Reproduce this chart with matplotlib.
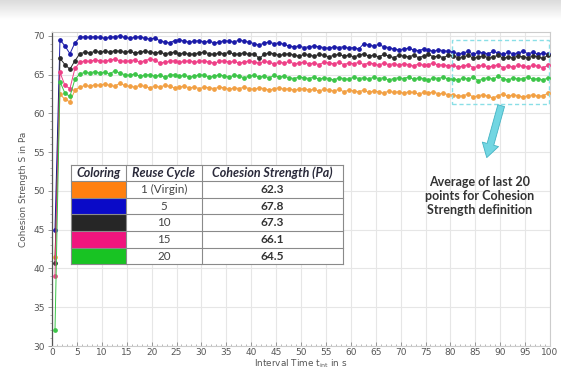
import numpy as np
import matplotlib
matplotlib.use("Agg")
import matplotlib.pyplot as plt
from matplotlib.patches import Rectangle
from matplotlib.ticker import MultipleLocator

# ---------------- data ----------------
time_s = np.arange(100) + 0.6

blue_5 = [45.0, 69.5, 68.7, 67.7, 69.1, 69.8, 69.9, 69.8, 69.9, 69.8,
          69.7, 69.8, 69.9, 70.0, 69.8, 69.7, 69.8, 69.9, 69.7, 69.6,
          69.7, 69.4, 69.2, 69.1, 69.4, 69.5, 69.3, 69.2, 69.3, 69.4,
          69.2, 69.3, 69.1, 69.2, 69.4, 69.3, 69.2, 69.5, 69.3, 69.2,
          69.0, 68.8, 69.1, 69.2, 69.0, 69.1, 68.9, 68.7, 68.6, 68.7,
          68.5, 68.6, 68.7, 68.6, 68.5, 68.4, 68.6, 68.5, 68.6, 68.4,
          68.5, 68.3, 69.0, 68.8, 68.7, 68.9, 68.6, 68.5, 68.3, 68.2,
          68.3, 68.4, 68.2, 68.1, 68.3, 68.2, 68.0, 68.2, 68.1, 68.0,
          67.9, 67.7, 67.8, 68.0, 67.6, 67.9, 67.8, 67.7, 68.0, 67.8,
          67.6, 67.9, 67.7, 67.8, 68.0, 67.7, 67.9, 67.6, 67.8, 67.6]

black_10 = [40.7, 67.1, 66.3, 65.7, 66.8, 67.7, 67.9, 67.8, 68.0, 67.9,
            68.0, 67.9, 68.1, 68.0, 67.9, 68.0, 67.8, 67.9, 68.0, 67.9,
            67.8, 67.9, 67.7, 67.8, 67.9, 67.7, 67.8, 67.6, 67.7, 67.8,
            67.9, 67.7, 67.6, 67.8, 67.7, 67.9, 67.6, 67.7, 67.8, 67.6,
            67.7, 67.1, 67.6, 67.8, 67.7, 67.5, 67.6, 67.7, 67.5, 67.4,
            67.6, 67.5, 67.4, 67.6, 67.5, 67.3, 67.5, 67.6, 67.4, 67.5,
            67.3, 67.5, 67.7, 67.4, 67.5, 67.3, 67.6, 67.4, 67.2, 67.5,
            67.4, 67.3, 67.5, 67.2, 67.4, 67.6, 67.3, 67.4, 67.2, 67.5,
            67.4, 67.2, 67.3, 67.5, 67.1, 67.3, 67.4, 67.2, 67.3, 67.5,
            67.1, 67.3, 67.2, 67.4, 67.3, 67.2, 67.4, 67.3, 67.1, 67.5]

pink_15 = [39.0, 65.3, 63.6, 63.2, 65.8, 66.6, 66.8, 66.7, 66.9, 66.8,
           66.7, 66.9, 67.0, 66.8, 66.7, 66.8, 66.9, 66.6, 66.8, 67.0,
           66.9, 66.5, 66.6, 66.7, 66.8, 66.6, 66.7, 66.8, 66.6, 66.7,
           66.8, 66.6, 66.5, 66.7, 66.8, 66.6, 66.7, 66.5, 66.6, 66.8,
           66.6, 66.5, 66.7, 66.6, 66.4, 66.6, 66.5, 66.7, 66.4, 66.5,
           66.6, 66.4, 66.5, 66.3, 66.6, 66.5, 66.4, 66.6, 66.3, 66.5,
           66.4, 66.6, 66.3, 66.5, 66.4, 66.2, 66.5, 66.3, 66.4, 66.2,
           66.4, 66.3, 66.1, 66.4, 66.2, 66.3, 66.5, 66.2, 66.3, 66.1,
           66.2, 66.0, 66.1, 66.3, 65.9, 66.1, 66.2, 66.0, 66.1, 66.3,
           65.9, 66.1, 66.0, 66.2, 66.1, 66.0, 66.2, 66.1, 65.9, 66.2]

green_20 = [32.0, 64.1, 62.6, 62.2, 64.4, 65.1, 65.3, 65.2, 65.4, 65.2,
            65.3, 65.1, 65.5, 65.2, 65.0, 64.9, 65.1, 64.8, 64.9, 65.0,
            64.8, 64.9, 64.7, 64.9, 65.0, 64.8, 64.9, 64.7, 64.8, 65.0,
            64.9, 64.7, 64.8, 65.0, 64.8, 64.7, 64.9, 64.8, 64.6, 64.8,
            64.9, 64.7, 64.8, 64.6, 64.9, 64.7, 64.8, 64.6, 64.5, 64.7,
            64.6, 64.5, 64.7, 64.4, 64.6, 64.5, 64.3, 64.6, 64.5, 64.4,
            64.7, 64.5, 64.6, 64.4, 64.7, 64.5, 64.6, 64.3, 64.5, 64.6,
            64.5, 64.7, 64.4, 64.6, 64.5, 64.3, 64.6, 64.5, 64.7, 64.4,
            64.5, 64.3, 64.6, 64.4, 64.7, 64.2, 64.5, 64.6, 64.4, 64.8,
            64.5, 64.3, 64.6, 64.4, 64.5, 64.7, 64.4, 64.5, 64.3, 64.6]

orange_1 = [41.5, 62.5, 61.8, 61.5, 63.0, 63.4, 63.6, 63.5, 63.7, 63.6,
            63.8, 63.6, 63.5, 63.9, 63.6, 63.5, 63.4, 63.6, 63.5, 63.3,
            63.5, 63.4, 63.6, 63.5, 63.3, 63.4, 63.5, 63.3, 63.4, 63.2,
            63.4, 63.3, 63.2, 63.4, 63.3, 63.1, 63.3, 63.2, 63.4, 63.2,
            63.1, 63.3, 63.2, 63.0, 63.2, 63.3, 63.1, 63.2, 63.0, 63.1,
            63.2, 63.0, 63.1, 62.9, 63.1, 63.0, 62.9, 63.1, 62.8, 63.0,
            62.9, 62.8, 63.0, 62.7, 62.9, 62.8, 62.6, 62.9, 62.7, 62.8,
            62.6, 62.8, 62.7, 62.5, 62.7, 62.6, 62.8, 62.5, 62.6, 62.4,
            62.4, 62.2, 62.3, 62.5, 62.1, 62.3, 62.4, 62.2, 62.0, 62.3,
            62.5, 62.2, 62.4, 62.3, 62.1, 62.3, 62.4, 62.2, 62.3, 62.6]

reuse_cycles = ["1 (Virgin)", "5", "10", "15", "20"]
strengths = ["62.3", "67.8", "67.3", "66.1", "64.5"]
table_headers = ["Coloring", "Reuse Cycle", "Cohesion Strength (Pa)"]

series = [orange_1, blue_5, black_10, pink_15, green_20]
line_colors = ["#f2a043", "#1a1aa8", "#2a2a2a", "#ee3f86", "#3cc548"]
swatch_colors = ["#ff8010", "#0a0ac8", "#262626", "#f0157e", "#18c323"]

# ---------------- figure ----------------
W, H = 561, 370
fig = plt.figure(figsize=(W / 100, H / 100), dpi=100)
fig.patch.set_facecolor("white")

# faint grey haze at the very top
bg = fig.add_axes([0, 1 - 20 / H, 1, 20 / H], zorder=-5)
grad = np.linspace(0.86, 1.0, 50).reshape(-1, 1)
bg.imshow(np.repeat(grad, 10, axis=1), cmap="gray", vmin=0, vmax=1,
          aspect="auto", extent=[0, 1, 0, 1], origin="upper")
bg.axis("off")

ax_l, ax_r = 52 / W, 550 / W
ax_b = 24 / H
ax_t = (H - 32) / H
ax = fig.add_axes([ax_l, ax_b, ax_r - ax_l, ax_t - ax_b])

for vals, col in zip(series, line_colors):
    ax.plot(time_s, vals, color=col, lw=0.7, marker="o", ms=2.4,
            mec=col, mfc=col, zorder=3)

ax.set_xlim(0, 100)
ax.set_ylim(30, 70.5)
ax.xaxis.set_major_locator(MultipleLocator(5))
ax.xaxis.set_minor_locator(MultipleLocator(1))
ax.yaxis.set_major_locator(MultipleLocator(5))
ax.yaxis.set_minor_locator(MultipleLocator(1))
ax.grid(True, which="major", color="#e6e6e6", lw=0.8, zorder=0)
ax.tick_params(which="major", length=3, width=0.6, color="#888888",
               labelsize=6.5, labelcolor="#555555", pad=2)
ax.tick_params(which="minor", length=1.5, width=0.5, color="#999999")
ax.tick_params(axis="x", which="both", direction="in", pad=1.5)
ax.spines["left"].set_color("#555555")
ax.spines["left"].set_linewidth(0.9)
for s in ["bottom", "right", "top"]:
    ax.spines[s].set_color("#cccccc")
    ax.spines[s].set_linewidth(0.8)

ax.set_ylabel("Cohesion Strength S in Pa", fontsize=6.4, color="#555555", labelpad=4)
ax.set_xlabel(r"Interval Time t$_{\rm int}$ in s", fontsize=6.4, color="#555555",
              va="center")
ax.xaxis.set_label_coords(0.5, -0.055)

# dashed box for last 20 points
ax.add_patch(Rectangle((80.3, 61.2), 19.5, 8.3, fill=False, ec="#8adfe6",
                       lw=1.0, ls=(0, (3, 2)), zorder=4))

# arrow
ax.annotate("", xy=(87.3, 54.3), xytext=(90.2, 61.0),
            arrowprops=dict(arrowstyle="simple,head_length=0.9,head_width=1.1,tail_width=0.45",
                            fc="#72d6e2", ec="#45b3c3", lw=0.6, mutation_scale=11,
                            shrinkA=0, shrinkB=0), zorder=5)

ax.text(85.9, 49.4, "Average of last 20\npoints for Cohesion\nStrength definition",
        ha="center", va="center", fontsize=9.0, fontweight="bold", color="#333333",
        family="Lato", linespacing=1.2, zorder=5)

# ---------------- table (figure pixel layout) ----------------
def px(x, y):
    return x / W, 1 - y / H

col_x = [71, 126, 202, 343]
row_y = [165, 181, 198, 214, 231, 248, 264]
tf = fig.transFigure

x0, y0 = px(col_x[0], row_y[-1])
x1, y1 = px(col_x[-1], row_y[0])
fig.add_artist(Rectangle((x0, y0), x1 - x0, y1 - y0, transform=tf,
                         fc="white", ec="none", zorder=6))
for i, c in enumerate(swatch_colors):
    a0, b0 = px(col_x[0], row_y[i + 2])
    a1, b1 = px(col_x[1], row_y[i + 1])
    fig.add_artist(Rectangle((a0, b0), a1 - a0, b1 - b0, transform=tf,
                             fc=c, ec="none", zorder=7))
for yy in row_y:
    a0, b0 = px(col_x[0], yy)
    a1, _ = px(col_x[-1], yy)
    fig.add_artist(plt.Line2D([a0, a1], [b0, b0], transform=tf, color="#8a8a8a",
                              lw=0.8, zorder=8))
for xx in col_x:
    a0, b0 = px(xx, row_y[0])
    _, b1 = px(xx, row_y[-1])
    fig.add_artist(plt.Line2D([a0, a0], [b0, b1], transform=tf, color="#8a8a8a",
                              lw=0.8, zorder=8))
for j, h in enumerate(table_headers):
    cx = (col_x[j] + col_x[j + 1]) / 2
    cy = (row_y[0] + row_y[1]) / 2
    fx, fy = px(cx, cy)
    fig.text(fx, fy, h, ha="center", va="center", fontsize=9.0, fontweight="bold",
             fontstyle="italic", family="Lato", color="#2a2a3a", zorder=9)
for i in range(5):
    cy = (row_y[i + 1] + row_y[i + 2]) / 2
    fx, fy = px((col_x[1] + col_x[2]) / 2, cy)
    fig.text(fx, fy, reuse_cycles[i], ha="center", va="center", fontsize=8.4,
             family="Lato", color="#444444", zorder=9)
    fx, fy = px((col_x[2] + col_x[3]) / 2, cy)
    fig.text(fx, fy, strengths[i], ha="center", va="center", fontsize=8.6,
             fontweight="bold", family="Lato", color="#333333", zorder=9)

fig.savefig("out.png", dpi=100)
